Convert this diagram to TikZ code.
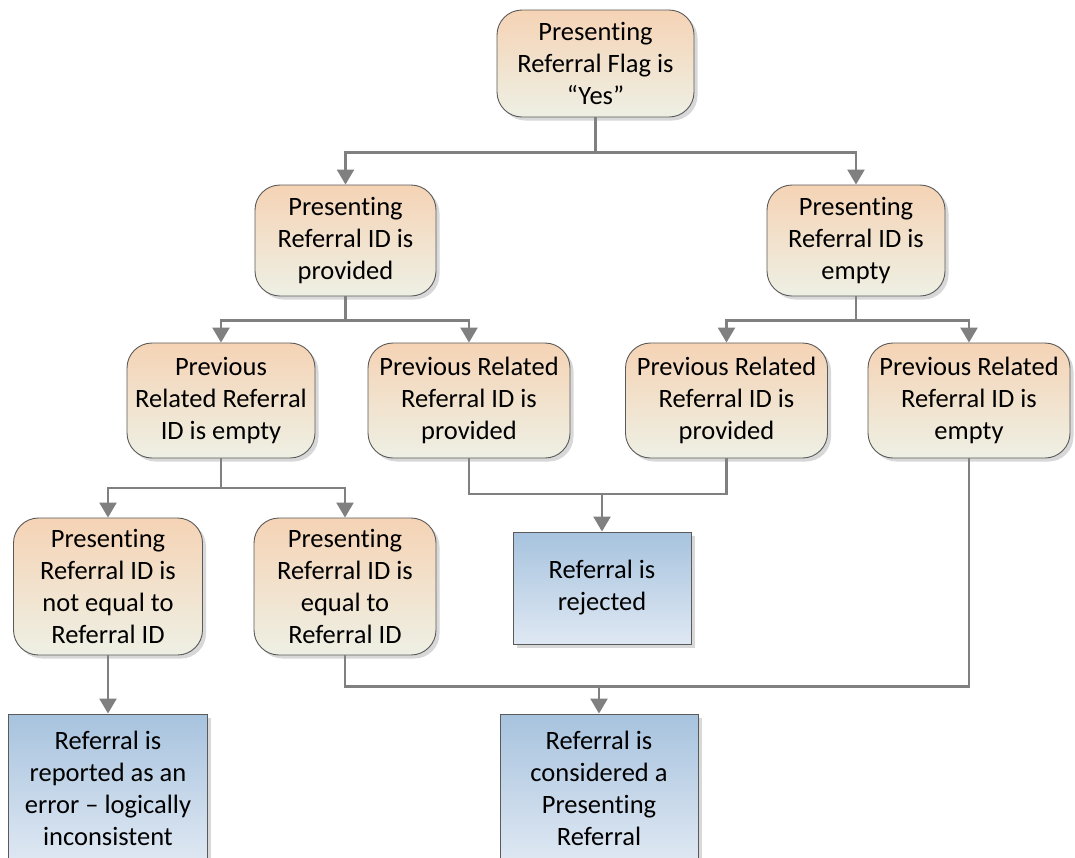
\documentclass[tikz,border=0pt]{standalone}
\usepackage{fontspec}
\setmainfont[Ligatures=NoCommon]{Carlito}
\usetikzlibrary{arrows.meta,shadows,calc}
\definecolor{ortop}{HTML}{F5D3B5}
\definecolor{orbot}{HTML}{EEF0E4}
\definecolor{bltop}{HTML}{A7C3DE}
\definecolor{blbot}{HTML}{DFE8F3}
\definecolor{conn}{HTML}{808080}
\definecolor{edge}{HTML}{5A5A5A}
\tikzset{
  boxbase/.style={draw=edge, line width=0.9pt, align=center, inner sep=0pt,
    font=\fontsize{26.5}{32}\selectfont,
    drop shadow={shadow xshift=3.5pt, shadow yshift=-3.5pt, fill=black!30, opacity=0.5}},
  condbox/.style={boxbase, rounded corners=25pt, top color=ortop, bottom color=orbot},
  resbox/.style={boxbase, top color=bltop, bottom color=blbot},
  wire/.style={draw=conn, line width=2.4pt},
  arrowwire/.style={wire, -{Triangle[width=17pt,length=15pt]}, shorten >=0pt},
}
\begin{document}
\begin{tikzpicture}[x=1pt,y=-1pt]
\useasboundingbox (0,0) rectangle (1075,857);
\fill[white] (0,0) rectangle (1075,857);
\clip (0,0) rectangle (1075,857);

% condition nodes
\node[condbox, minimum width=197pt, minimum height=107pt] (top) at (595.5,63.5)
  {Presenting\\Referral Flag is\\“Yes”};
\node[condbox, minimum width=181pt, minimum height=111pt] (L) at (345.5,240.5)
  {Presenting\\Referral ID is\\provided};
\node[condbox, minimum width=178pt, minimum height=111pt] (R) at (856,240.5)
  {Presenting\\Referral ID is\\empty};
\node[condbox, minimum width=188pt, minimum height=115pt] (A) at (221,400.5)
  {Previous\\Related Referral\\ID is empty};
\node[condbox, minimum width=202pt, minimum height=115pt] (B) at (469,400.5)
  {Previous Related\\Referral ID is\\provided};
\node[condbox, minimum width=202pt, minimum height=115pt] (C) at (726.5,400.5)
  {Previous Related\\Referral ID is\\provided};
\node[condbox, minimum width=202pt, minimum height=115pt] (D) at (969,400.5)
  {Previous Related\\Referral ID is\\empty};
\node[condbox, minimum width=189pt, minimum height=137pt] (E) at (108,586.5)
  {Presenting\\Referral ID is\\not equal to\\Referral ID};
\node[condbox, minimum width=182pt, minimum height=137pt] (F) at (345,586.5)
  {Presenting\\Referral ID is\\equal to\\Referral ID};

% result nodes
\node[resbox, minimum width=178pt, minimum height=112pt] (rej) at (602,588)
  {Referral is\\rejected};
\node[resbox, minimum width=199pt, minimum height=148pt] (err) at (108,788)
  {Referral is\\reported as an\\error – logically\\inconsistent};
\node[resbox, minimum width=198pt, minimum height=148pt] (cons) at (599,788)
  {Referral is\\considered a\\Presenting\\Referral};

% connectors
\draw[arrowwire] (top.south) -- ++(0,35) -| (L.north);
\draw[arrowwire] (top.south) -- ++(0,35) -| (R.north);
\draw[arrowwire] (L.south) -- ++(0,24) -| (A.north);
\draw[arrowwire] (L.south) -- ++(0,24) -| (B.north);
\draw[arrowwire] (R.south) -- ++(0,24) -| (C.north);
\draw[arrowwire] (R.south) -- ++(0,24) -| (D.north);
\draw[arrowwire] (A.south) -- ++(0,29.5) -| (E.north);
\draw[arrowwire] (A.south) -- ++(0,29.5) -| (F.north);
\draw[wire] (B.south) -- ++(0,35.5) coordinate (jb) -| (C.south);
\draw[arrowwire] (jb -| rej.north) -- (rej.north);
\draw[arrowwire] (E.south) -- (err.north);
\draw[wire] (F.south) -- ++(0,31) coordinate (jf) -| (D.south);
\draw[arrowwire] (jf -| cons.north) -- (cons.north);
\end{tikzpicture}
\end{document}
